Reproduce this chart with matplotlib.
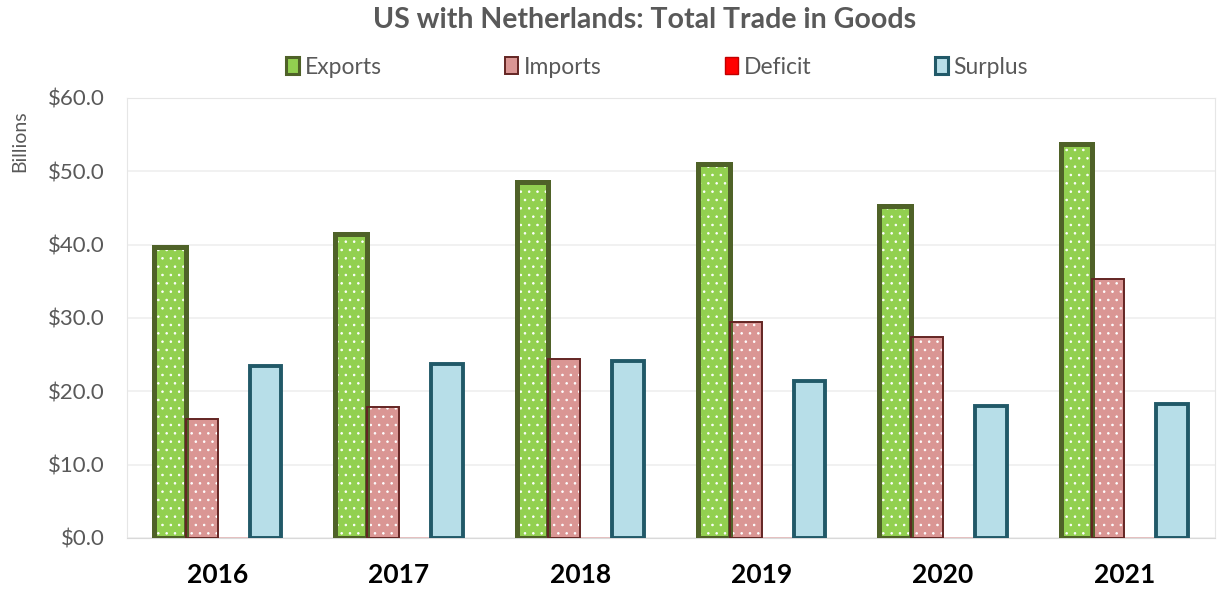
import numpy as np
import matplotlib
matplotlib.use('Agg')
import matplotlib.pyplot as plt
from matplotlib.patches import Patch

years = ['2016', '2017', '2018', '2019', '2020', '2021']
exports = [39.7, 41.4, 48.5, 51.0, 45.3, 53.7]
imports = [16.2, 17.8, 24.4, 29.5, 27.4, 35.3]
deficit = [0, 0, 0, 0, 0, 0]
surplus = [23.5, 23.7, 24.1, 21.4, 18.0, 18.3]
series_names = ['Exports', 'Imports', 'Deficit', 'Surplus']
yticks = [0, 10, 20, 30, 40, 50, 60]

plt.rcParams['font.family'] = ['Lato', 'DejaVu Sans']
plt.rcParams['hatch.linewidth'] = 0.6

fig = plt.figure(figsize=(12.17, 5.96), dpi=100)
ax = fig.add_axes([127 / 1217, 58 / 596, 1088 / 1217, 440 / 596])

x = np.arange(len(years))
w = 0.176

# fill, white dot overlay, then border on top
styles = [
    (exports, '#92d050', '#4f6228', 3.6, True),
    (imports, '#da9694', '#632523', 1.4, True),
    (deficit, '#ff0000', '#c00000', 1.0, True),
    (surplus, '#b7dee8', '#215968', 2.8, False),
]
for k, (vals, fc, ec, lw, dots) in enumerate(styles):
    pos = x + (k - 1.5) * w
    ax.bar(pos, vals, w, color=fc, linewidth=0, zorder=3)
    if dots:
        ax.bar(pos, vals, w, facecolor='none', edgecolor='white',
               hatch='..', linewidth=0, zorder=4)
    ax.bar(pos, vals, w, facecolor='none', edgecolor=ec, linewidth=lw,
           zorder=5)

ax.set_xlim(-0.5, len(years) - 0.5)
ax.set_ylim(0, 60)
ax.set_yticks(yticks)
ax.set_yticklabels(['$%.1f' % v for v in yticks], color='#595959',
                   fontsize=16)
ax.set_xticks(x)
ax.set_xticklabels(years, fontsize=19, fontweight='bold', color='black')
ax.tick_params(length=0)
ax.tick_params(axis='y', pad=16)
ax.tick_params(axis='x', pad=18)
ax.grid(axis='y', color='#efefef', linewidth=1.2, zorder=0)
for s in ax.spines.values():
    s.set_color('#e6e6e6')
ax.spines['bottom'].set_color('#d9d9d9')

fig.text(20 / 1217, 1 - 141 / 596, 'Billions', rotation=90, ha='center',
         va='center', fontsize=14, color='#595959')
fig.text(645 / 1217, 1 - 20 / 596, 'US with Netherlands: Total Trade in Goods',
         ha='center', va='center', fontsize=20.5, fontweight='bold',
         color='#595959')

handles = []
for (vals, fc, ec, lw, dots), name in zip(styles, series_names):
    handles.append(Patch(facecolor=fc, edgecolor=ec,
                         linewidth=min(lw, 2.2), label=name))
fig.legend(handles=handles, loc='center', ncol=4,
           bbox_to_anchor=(657 / 1217, 1 - 67 / 596), frameon=False,
           fontsize=16.5, handlelength=0.55, handleheight=0.75,
           handletextpad=0.25, columnspacing=5.4, labelcolor='#595959')

fig.savefig('out.png', dpi=100)
